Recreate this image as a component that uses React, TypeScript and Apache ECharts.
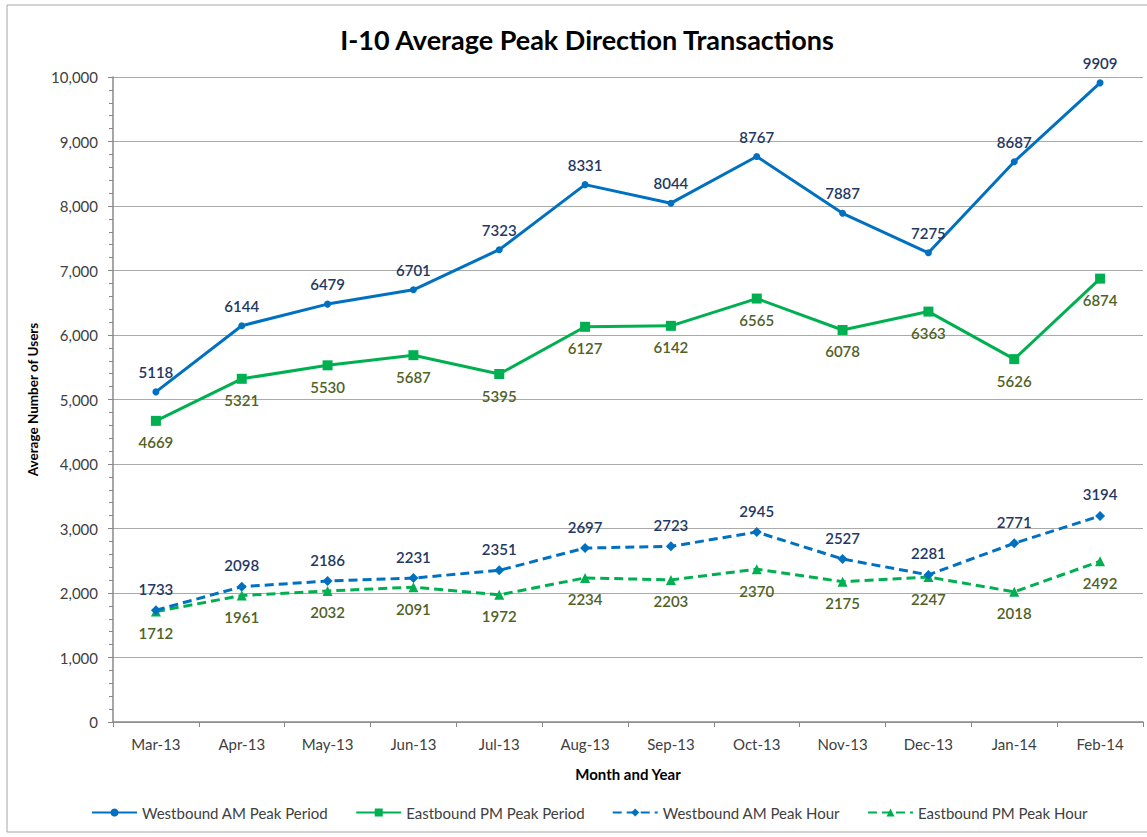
import React, { useEffect, useRef } from "react";
import * as echarts from "echarts";

const categories = ["Mar-13", "Apr-13", "May-13", "Jun-13", "Jul-13", "Aug-13", "Sep-13", "Oct-13", "Nov-13", "Dec-13", "Jan-14", "Feb-14"];
const wbAmPeriod = [5118, 6144, 6479, 6701, 7323, 8331, 8044, 8767, 7887, 7275, 8687, 9909];
const ebPmPeriod = [4669, 5321, 5530, 5687, 5395, 6127, 6142, 6565, 6078, 6363, 5626, 6874];
const wbAmHour = [1733, 2098, 2186, 2231, 2351, 2697, 2723, 2945, 2527, 2281, 2771, 3194];
const ebPmHour = [1712, 1961, 2032, 2091, 1972, 2234, 2203, 2370, 2175, 2247, 2018, 2492];

const FONT = "Lato, 'Open Sans', sans-serif";
const BLUE = "#0070C0";
const GREEN = "#00B050";
const BLUE_LABEL = "#1F3864";
const GREEN_LABEL = "#4F6228";

export default function App() {
  const ref = useRef<HTMLDivElement>(null);
  useEffect(() => {
    document.body.style.margin = "0";
    const chart = echarts.init(ref.current!, null, { renderer: "svg" });
    const label = (pos: string, color: string) => ({
      show: true,
      position: pos,
      distance: 9,
      color,
      fontSize: 15,
      fontWeight: 600,
      fontFamily: FONT,
    });
    chart.setOption({
      animation: false,
      backgroundColor: "#fff",
      textStyle: { fontFamily: FONT },
      title: {
        text: "I-10 Average Peak Direction Transactions",
        left: 582,
        textAlign: "center",
        top: 21,
        textStyle: { fontSize: 27, fontWeight: "bold", color: "#000", fontFamily: FONT },
      },
      graphic: [
        {
          type: "rect",
          shape: { x: 7, y: 5, width: 1150, height: 827 },
          style: { fill: "none", stroke: "#a6a6a6", lineWidth: 1 },
          silent: true,
          z: -1,
        },
      ],
      grid: { left: 113, right: 4, top: 77, bottom: 115 },
      legend: {
        bottom: 12,
        left: 86,
        itemWidth: 45,
        itemHeight: 10,
        itemGap: 27,
        textStyle: { fontSize: 15, color: "#404040", fontFamily: FONT },
        data: ["Westbound AM Peak Period", "Eastbound PM Peak Period", "Westbound AM Peak Hour", "Eastbound PM Peak Hour"],
      },
      xAxis: {
        type: "category",
        data: categories,
        boundaryGap: true,
        name: "Month and Year",
        nameLocation: "middle",
        nameGap: 44,
        nameTextStyle: { fontSize: 15, fontWeight: "bold", color: "#000", fontFamily: FONT },
        axisLine: { lineStyle: { color: "#888", width: 1.5 } },
        axisTick: { show: true, length: 5, lineStyle: { color: "#888" } },
        axisLabel: { fontSize: 15, color: "#404040", margin: 14, fontFamily: FONT },
      },
      yAxis: {
        type: "value",
        min: 0,
        max: 10000,
        interval: 1000,
        name: "Average Number of Users",
        nameLocation: "middle",
        nameGap: 68,
        nameTextStyle: { fontSize: 13.5, fontWeight: "bold", color: "#000", fontFamily: FONT },
        axisLine: { show: true, lineStyle: { color: "#888", width: 1.5 } },
        axisTick: { show: true, length: 5, lineStyle: { color: "#888" } },
        minorTick: { show: true, splitNumber: 5, length: 4, lineStyle: { color: "#888" } },
        splitLine: { show: true, lineStyle: { color: "#aaa", width: 1 } },
        axisLabel: {
          fontSize: 15,
          color: "#404040",
          margin: 15,
          fontFamily: FONT,
          formatter: (v: number) => v.toLocaleString("en-US"),
        },
      },
      series: [
        {
          name: "Westbound AM Peak Period",
          type: "line",
          data: wbAmPeriod,
          color: BLUE,
          symbol: "circle",
          symbolSize: 7,
          lineStyle: { width: 3, color: BLUE },
          itemStyle: { color: BLUE },
          label: label("top", BLUE_LABEL),
          z: 4,
        },
        {
          name: "Eastbound PM Peak Period",
          type: "line",
          data: ebPmPeriod,
          color: GREEN,
          symbol: "rect",
          symbolSize: 10,
          lineStyle: { width: 3, color: GREEN },
          itemStyle: { color: GREEN },
          label: label("bottom", GREEN_LABEL),
          z: 3,
        },
        {
          name: "Westbound AM Peak Hour",
          type: "line",
          data: wbAmHour,
          color: BLUE,
          symbol: "diamond",
          symbolSize: 10,
          lineStyle: { width: 3, color: BLUE, type: [9, 5] },
          itemStyle: { color: BLUE },
          label: label("top", BLUE_LABEL),
          z: 2,
        },
        {
          name: "Eastbound PM Peak Hour",
          type: "line",
          data: ebPmHour,
          color: GREEN,
          symbol: "triangle",
          symbolSize: 10,
          lineStyle: { width: 3, color: GREEN, type: [9, 5] },
          itemStyle: { color: GREEN },
          label: label("bottom", GREEN_LABEL),
          z: 1,
        },
      ],
    });
    return () => chart.dispose();
  }, []);
  return <div ref={ref} style={{ width: 1147, height: 837 }} />;
}
